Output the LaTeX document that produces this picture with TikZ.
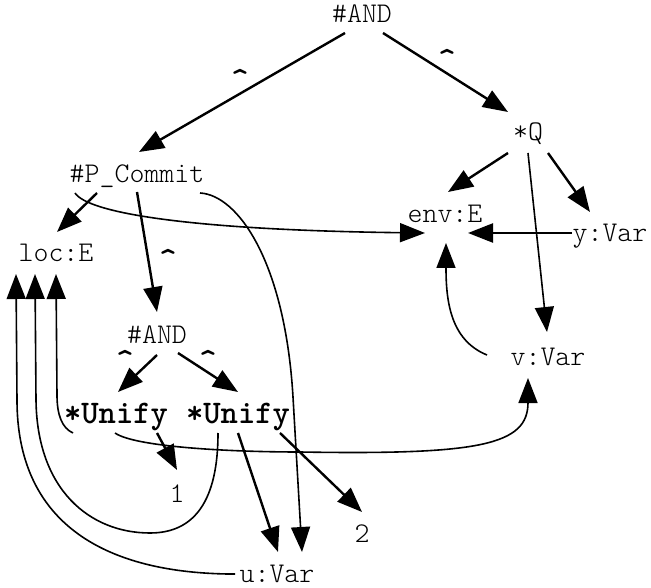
\documentclass[tikz,border=0pt]{standalone}
\usetikzlibrary{arrows.meta}
\tikzset{
  lbl/.style={font=\fontsize{28.5}{34}\ttfamily\fontseries{l}\selectfont, inner sep=0pt, anchor=base},
  bl/.style={font=\fontsize{33}{38}\ttfamily\bfseries\selectfont, inner sep=0pt, anchor=base},
  crt/.style={font=\fontsize{34}{38}\ttfamily\bfseries\selectfont, inner sep=0pt, anchor=base},
  arr/.style={line width=2.4pt, -{Triangle[length=25pt,width=19pt]}},
  carr/.style={line width=1.6pt, -{Triangle[length=25pt,width=19pt]}}
}
\begin{document}
\begin{tikzpicture}[x=1pt,y=-1pt]
\useasboundingbox (0,0) rectangle (651,588);
% nodes
\node[lbl] (AND1) at (362,23) {\#AND};
\node[lbl] (PC) at (137,183) {\#P\_Commit};
\node[lbl] (Q) at (528,141) {*Q};
\node[lbl] (LOC) at (56,262) {loc:E};
\node[lbl] (ENV) at (445,223) {env:E};
\node[lbl] (YV) at (610,242) {y:Var};
\node[lbl] (VV) at (548,365) {v:Var};
\node[lbl] (AND2) at (157,343) {\#AND};
\node[bl] (U1) at (116,423) {*Unify};
\node[bl] (U2) at (238,423) {*Unify};
\node[lbl] (UV) at (277,582) {u:Var};
\node[lbl] (N1) at (177,502) {1};
\node[lbl] (N2) at (362,542) {2};
% carets
\node[crt] (c1) at (240,91) {\textasciicircum};
\node[crt] (c2) at (447,71) {\textasciicircum};
\node[crt] (c3) at (168,271) {\textasciicircum};
\node[crt] (c4) at (125,371) {\textasciicircum};
\node[crt] (c5) at (208,371) {\textasciicircum};
% straight arrows
\draw[arr] ([shift={(-17,10)}]AND1.base) -- ([shift={(2,-31)}]PC.base);
\draw[arr] ([shift={(21,10)}]AND1.base) -- ([shift={(-20,-29)}]Q.base);
\draw[arr] ([shift={(-20,12)}]Q.base) -- ([shift={(3,-31)}]ENV.base);
\draw[arr] ([shift={(20,12)}]Q.base) -- ([shift={(-20,-30)}]YV.base);
\draw[carr] ([shift={(0,12)}]Q.base) -- ([shift={(-1,-33)}]VV.base);
\draw[arr] ([shift={(-38,-9)}]YV.base) -- ([shift={(23,10)}]ENV.base);
\draw[arr] ([shift={(-40,10)}]PC.base) -- ([shift={(1,-30)}]LOC.base);
\draw[arr] ([shift={(0,9)}]PC.base) -- ([shift={(0,-31)}]AND2.base);
\draw[arr] ([shift={(0,12)}]AND2.base) -- ([shift={(2,-31)}]U1.base);
\draw[arr] ([shift={(21,10)}]AND2.base) -- ([shift={(0,-31)}]U2.base);
\draw[arr] ([shift={(41,10)}]U1.base) -- ([shift={(0,-32)}]N1.base);
\draw[arr] ([shift={(0,10)}]U2.base) -- ([shift={(1,-30)}]UV.base);
\draw[arr] ([shift={(42,10)}]U2.base) -- ([shift={(0,-30)}]N2.base);
% curved arrows
\draw[carr] ([shift={(-61,-10)}]VV.base) .. controls +(-37,-15) and +(0,57) .. ([shift={(1,20)}]ENV.base);
\draw[carr] ([shift={(-62,10)}]PC.base) .. controls +(13,20) and +(-235,-3) .. ([shift={(-20,10)}]ENV.base);
\draw[carr] ([shift={(63,10)}]PC.base) .. controls +(38,2) and (285,262) .. (293,397) -- ([shift={(25,-30)}]UV.base);
\draw[carr] ([shift={(-1,10)}]U1.base) .. controls (135,447) and (230,452) .. (300,452)
   .. controls (480,455) and (528,445) .. ([shift={(-20,13)}]VV.base);
\draw[carr] ([shift={(-20,10)}]U2.base) .. controls (218,500) and (195,533) .. (150,533)
   .. controls (90,533) and (37,490) .. (36,400) -- ([shift={(-21,12)}]LOC.base);
\draw[carr] ([shift={(-43,10)}]U1.base) .. controls (62,428) and (57,415) .. (57,395) -- ([shift={(0,12)}]LOC.base);
\draw[carr] ([shift={(-42,-8)}]UV.base) -- (228,574) .. controls (100,572) and (17,520) .. (17,400) -- ([shift={(-40,12)}]LOC.base);
\end{tikzpicture}
\end{document}
